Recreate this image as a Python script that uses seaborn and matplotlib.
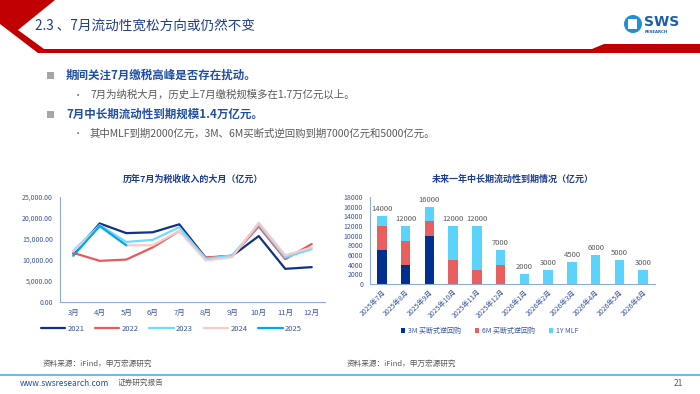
import matplotlib
matplotlib.use("Agg")
import matplotlib.pyplot as plt
import matplotlib.patches as mpatches
from matplotlib.lines import Line2D
from matplotlib.ticker import FuncFormatter, FixedLocator
import numpy as np
import pandas as pd
import seaborn as sns

# ---- line chart data (亿元) ----
MONTHS = ["3月", "4月", "5月", "6月", "7月", "8月", "9月", "10月", "11月", "12月"]
TAX_2021 = [11500, 18700, 16400, 16600, 18500, 10500, 11000, 15700, 7900, 8300]
TAX_2022 = [11700, 9800, 10100, 13000, 16900, 10600, 11000, 18000, 10200, 13800]
TAX_2023 = [12200, 18300, 14300, 14800, 17800, 10300, 11100, 18500, 10600, 12600]
TAX_2024 = [12000, 17900, 13500, 13500, 16900, 9900, 10700, 18900, 11100, 13000]
TAX_2025 = [11000, 18100, 13500]
YEARS = ["2021", "2022", "2023", "2024", "2025"]
YEAR_COLORS = ["#10308A", "#E65A5A", "#6EDBFF", "#F7CACA", "#00A9EE"]

# ---- bar chart data (亿元) ----
MATURITY = ["2025年7月", "2025年8月", "2025年9月", "2025年10月", "2025年11月", "2025年12月",
            "2026年1月", "2026年2月", "2026年3月", "2026年4月", "2026年5月", "2026年6月"]
REPO_3M = [7000, 4000, 10000, 0, 0, 0, 0, 0, 0, 0, 0, 0]
REPO_6M = [5000, 5000, 3000, 5000, 3000, 4000, 0, 0, 0, 0, 0, 0]
MLF_1Y = [2000, 3000, 3000, 7000, 9000, 3000, 2000, 3000, 4500, 6000, 5000, 3000]
SERIES = ["3M 买断式逆回购", "6M 买断式逆回购", "1Y MLF"]
BAR_COLORS = ["#00308F", "#E85F5F", "#5CD3FD"]

W, H = 700, 394
RED = "#C00000"
NAVY = "#1F3D8F"
AXIS_BLUE = "#8FAADC"
TICK_BLUE = "#3A56A0"
GRAY = "#595959"


def fx(px):
    return px / W


def fy(py):
    return 1 - py / H


def main() -> None:
    sns.set_style("white")
    plt.rcParams["font.family"] = ["Noto Sans CJK SC", "DejaVu Sans"]
    plt.rcParams["axes.unicode_minus"] = False

    fig = plt.figure(figsize=(7, 3.94), dpi=100)

    # ---- slide header ----
    chevron = [(0, 0), (55, 0), (18, 30), (44, 49), (44, 53), (38, 53), (0, 24)]
    band = [(40, 49), (592, 49), (604, 44), (700, 44), (700, 53), (40, 53)]
    for poly in (chevron, band):
        fig.patches.append(mpatches.Polygon([(fx(x), fy(y)) for x, y in poly],
                                            closed=True, transform=fig.transFigure,
                                            facecolor=RED, edgecolor="none"))
    fig.text(fx(35), fy(27), "2.3 、7月流动性宽松方向或仍然不变", fontsize=9.8,
             color=NAVY, va="center", ha="left")

    # logo
    fig.patches.append(mpatches.Ellipse((fx(633), fy(24)), 18 / W, 18 / H,
                                        transform=fig.transFigure, facecolor="#1E8FDB",
                                        edgecolor="none"))
    fig.patches.append(mpatches.Rectangle((fx(628), fy(29)), 9 / W, 10 / H,
                                          transform=fig.transFigure, facecolor="white",
                                          edgecolor="none"))
    fig.text(fx(644), fy(22), "SWS", fontsize=10, fontweight="bold", color="#1A5EB0",
             va="center", ha="left", family="DejaVu Sans")
    fig.text(fx(645), fy(32), "RESEARCH", fontsize=2.8, fontweight="bold", color="#1A5EB0",
             va="center", ha="left", family="DejaVu Sans")

    # ---- bullets ----
    bullets = [
        (75, "期间关注7月缴税高峰是否存在扰动。", True),
        (95, "7月为纳税大月，历史上7月缴税规模多在1.7万亿元以上。", False),
        (114, "7月中长期流动性到期规模1.4万亿元。", True),
        (134, "其中MLF到期2000亿元，3M、6M买断式逆回购到期7000亿元和5000亿元。", False),
    ]
    for y, txt, main_level in bullets:
        if main_level:
            fig.patches.append(mpatches.Rectangle((fx(47), fy(y + 3.5)), 7 / W, 7 / H,
                                                  transform=fig.transFigure,
                                                  facecolor="#A6A6A6", edgecolor="none"))
            fig.text(fx(66), fy(y), txt, fontsize=8.3, fontweight="bold", color="#1F4EA3",
                     va="center", ha="left")
        else:
            fig.text(fx(74), fy(y), "•", fontsize=6, color=GRAY, va="center", ha="left")
            fig.text(fx(90), fy(y), txt, fontsize=7.5, color=GRAY, va="center", ha="left")

    # ---- left: line chart ----
    ax1 = fig.add_axes([fx(60), fy(302), fx(325) - fx(60), fy(197) - fy(302)])
    rows = []
    for year, vals in zip(YEARS, [TAX_2021, TAX_2022, TAX_2023, TAX_2024, TAX_2025]):
        for i, v in enumerate(vals):
            rows.append({"pos": i, "value": v, "year": year})
    df_tax = pd.DataFrame(rows)
    sns.lineplot(data=df_tax, x="pos", y="value", hue="year", hue_order=YEARS,
                 palette=dict(zip(YEARS, YEAR_COLORS)), linewidth=1.6, ax=ax1,
                 legend=False)
    ax1.set_xlim(-0.5, len(MONTHS) - 0.5)
    ax1.set_ylim(0, 25000)
    ax1.set_yticks(np.arange(0, 25001, 5000))
    ax1.yaxis.set_major_formatter(FuncFormatter(lambda v, _: f"{v:,.2f}"))
    ax1.xaxis.set_major_locator(FixedLocator(np.arange(-0.5, len(MONTHS), 1.0)))
    ax1.xaxis.set_minor_locator(FixedLocator(np.arange(len(MONTHS))))
    ax1.set_xticklabels([], minor=False)
    ax1.set_xticklabels(MONTHS, minor=True)
    ax1.tick_params(axis="x", which="major", length=3, color=AXIS_BLUE, width=0.8)
    ax1.tick_params(axis="x", which="minor", length=0, labelsize=5.5, labelcolor=TICK_BLUE,
                    pad=5)
    ax1.tick_params(axis="y", length=3, color=AXIS_BLUE, width=0.8, labelsize=5,
                    labelcolor=TICK_BLUE, pad=2)
    ax1.set_xlabel("")
    ax1.set_ylabel("")
    for s in ("top", "right"):
        ax1.spines[s].set_visible(False)
    for s in ("left", "bottom"):
        ax1.spines[s].set_color(AXIS_BLUE)
        ax1.spines[s].set_linewidth(0.8)
    ax1.set_title("历年7月为税收收入的大月（亿元）", fontsize=6.5, fontweight="bold",
                  color=NAVY, pad=11)
    handles = [Line2D([0], [0], color=c, lw=1.6) for c in YEAR_COLORS]
    ax1.legend(handles, YEARS, loc="upper center", bbox_to_anchor=(0.42, -0.15), ncol=5,
               frameon=False, fontsize=5.5, handlelength=3.2, columnspacing=1.4,
               handletextpad=0.3, labelcolor=TICK_BLUE)

    # ---- right: stacked bar chart ----
    ax2 = fig.add_axes([fx(370), fy(284), fx(655) - fx(370), fy(197) - fy(284)])
    totals = [a + b + c for a, b, c in zip(REPO_3M, REPO_6M, MLF_1Y)]
    lower2 = [a + b for a, b in zip(REPO_3M, REPO_6M)]
    for heights, color in zip([totals, lower2, REPO_3M], BAR_COLORS[::-1]):
        sns.barplot(x=MATURITY, y=heights, color=color, width=0.4, ax=ax2,
                    saturation=1, linewidth=0)
    for i, t in enumerate(totals):
        ax2.text(i, t + 600, f"{t}", ha="center", va="bottom", fontsize=5.5, color=GRAY)
    ax2.set_xlim(-0.5, len(MATURITY) - 0.5)
    ax2.set_ylim(0, 18000)
    ax2.set_yticks(np.arange(0, 18001, 2000))
    ax2.set_xticks(np.arange(len(MATURITY)))
    ax2.set_xticklabels(MATURITY, rotation=45, ha="right", rotation_mode="anchor")
    ax2.tick_params(axis="x", length=0, labelsize=5, labelcolor=TICK_BLUE, pad=3)
    ax2.tick_params(axis="y", length=3, color=AXIS_BLUE, width=0.8, labelsize=5,
                    labelcolor=TICK_BLUE, pad=2)
    for s in ("top", "right"):
        ax2.spines[s].set_visible(False)
    for s in ("left", "bottom"):
        ax2.spines[s].set_color(AXIS_BLUE)
        ax2.spines[s].set_linewidth(0.8)
    ax2.set_title("未来一年中长期流动性到期情况（亿元）", fontsize=6.5, fontweight="bold",
                  color=NAVY, pad=11)
    bar_handles = [mpatches.Patch(facecolor=c, edgecolor="none") for c in BAR_COLORS]
    ax2.legend(bar_handles, SERIES, loc="upper center", bbox_to_anchor=(0.42, -0.42), ncol=3,
               frameon=False, fontsize=5, handlelength=0.6, handleheight=0.6,
               columnspacing=2.0, handletextpad=0.4, labelcolor=TICK_BLUE)

    # ---- sources & footer ----
    fig.text(fx(43), fy(364), "资料来源：iFind，申万宏源研究", fontsize=5.5, color=GRAY,
             va="center", ha="left")
    fig.text(fx(347), fy(364), "资料来源：iFind，申万宏源研究", fontsize=5.5, color=GRAY,
             va="center", ha="left")
    fig.lines.append(Line2D([0, 1], [fy(375), fy(375)], transform=fig.transFigure,
                            color="#4BB2E8", linewidth=1.2))
    fig.text(fx(20), fy(383), "www.swsresearch.com", fontsize=6, color="#1F4EA3",
             va="center", ha="left")
    fig.text(fx(118), fy(383), "证券研究报告", fontsize=5.5, color=GRAY,
             va="center", ha="left")
    fig.text(fx(683), fy(383), "21", fontsize=6, color=GRAY, va="center", ha="right")

    fig.savefig("out.png", dpi=100)
    plt.close(fig)


if __name__ == "__main__":
    main()
